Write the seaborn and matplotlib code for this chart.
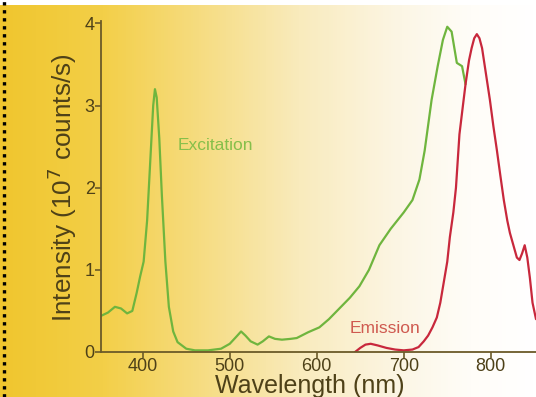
import numpy as np
import pandas as pd
import matplotlib
matplotlib.use("Agg")
import matplotlib.pyplot as plt
from matplotlib.colors import LinearSegmentedColormap
from matplotlib.lines import Line2D
import seaborn as sns

# Excitation spectrum (wavelength in nm, intensity in 10^7 counts/s)
ex_wavelength = [352, 360, 368, 375, 382, 388, 393, 397, 401, 405, 409, 412, 414,
                 416, 419, 422, 426, 430, 435, 440, 450, 460, 475, 490, 500, 507,
                 513, 518, 524, 532, 538, 545, 552, 560, 570, 577, 590, 603, 614,
                 626, 638, 649, 660, 672, 685, 700, 710, 718, 724, 732, 739, 745,
                 750, 755, 761, 767, 771]
ex_intensity = [0.44, 0.48, 0.55, 0.53, 0.47, 0.50, 0.72, 0.92, 1.10, 1.60, 2.40,
                3.00, 3.20, 3.10, 2.60, 1.90, 1.10, 0.55, 0.25, 0.12, 0.04, 0.02,
                0.02, 0.04, 0.10, 0.18, 0.25, 0.20, 0.13, 0.09, 0.13, 0.19, 0.16,
                0.15, 0.16, 0.17, 0.24, 0.30, 0.40, 0.53, 0.66, 0.80, 1.00, 1.30,
                1.50, 1.70, 1.85, 2.10, 2.45, 3.07, 3.48, 3.80, 3.96, 3.90, 3.52,
                3.48, 3.26]

# Emission spectrum
em_wavelength = [644, 650, 656, 662, 670, 680, 690, 700, 710, 717, 723, 728, 733,
                 738, 742, 746, 750, 753, 757, 760, 764, 768, 771, 775, 778, 781,
                 784, 787, 790, 795, 799, 803, 807, 811, 815, 819, 822, 826, 830,
                 833, 836, 839, 842, 845, 848, 852]
em_intensity = [0.00, 0.05, 0.09, 0.10, 0.08, 0.05, 0.03, 0.02, 0.03, 0.06, 0.13,
                0.20, 0.30, 0.42, 0.60, 0.85, 1.10, 1.40, 1.70, 2.00, 2.65, 3.00,
                3.26, 3.55, 3.70, 3.82, 3.87, 3.82, 3.70, 3.35, 3.07, 2.75, 2.46,
                2.15, 1.85, 1.60, 1.45, 1.30, 1.15, 1.12, 1.20, 1.30, 1.15, 0.90,
                0.60, 0.40]

x_ticks = [400, 500, 600, 700, 800]
y_ticks = [0, 1, 2, 3, 4]

ex_df = pd.DataFrame({"wavelength": ex_wavelength, "intensity": ex_intensity})
em_df = pd.DataFrame({"wavelength": em_wavelength, "intensity": em_intensity})

sns.set_style("ticks")
plt.rcParams["font.family"] = ["Liberation Sans", "DejaVu Sans"]

W, H = 536, 397
fig = plt.figure(figsize=(W / 100, H / 100), dpi=100)

# Warm yellow-to-white backdrop
bg = fig.add_axes([0, 0, 1, 1], zorder=-5)
cmap = LinearSegmentedColormap.from_list(
    "warm",
    [(0.0, "#f0c62e"), (0.19, "#f3cf48"), (0.37, "#f6dc80"),
     (0.56, "#f9ebbd"), (0.75, "#fcf6e5"), (0.88, "#fffdf8"), (1.0, "#ffffff")])
grad = np.tile(np.linspace(0, 1, W), (H, 1))
bg.imshow(grad, cmap=cmap, aspect="auto", extent=[0, W, 0, H], origin="lower")
bg.fill_between([0, W], H - 5, H, color="white", lw=0)
bg.set_xlim(0, W)
bg.set_ylim(0, H)
bg.axis("off")

# dotted border on the left
fig.add_artist(Line2D([3.5 / W, 3.5 / W], [0, 1], transform=fig.transFigure,
                      color="black", lw=2.4, linestyle=(0, (1, 1.4))))

ax = fig.add_axes([101 / W, 45 / H, (W - 101) / W, (352 - 21) / H])
ax.set_facecolor("none")

sns.lineplot(data=ex_df, x="wavelength", y="intensity", ax=ax,
             color="#6fb53e", lw=1.6, sort=False)
sns.lineplot(data=em_df, x="wavelength", y="intensity", ax=ax,
             color="#c8283c", lw=1.6, sort=False)

ax.set_xlim(352, 852)
ax.set_ylim(0, 4.03)
ax.set_xticks(x_ticks)
ax.set_yticks(y_ticks)

axis_col = "#6b5a28"
text_col = "#4e4118"
for s in ("top", "right"):
    ax.spines[s].set_visible(False)
for s in ("left", "bottom"):
    ax.spines[s].set_color(axis_col)
    ax.spines[s].set_linewidth(1.3)
ax.tick_params(axis="both", colors=axis_col, labelcolor=text_col,
               length=4, width=1.2, labelsize=13, pad=0.5)

ax.set_xlabel("Wavelength (nm)", fontsize=18, color=text_col)
ax.xaxis.set_label_coords(0.48, -0.124)
ax.xaxis.label.set_va("baseline")
ax.set_ylabel("Intensity (10$^7$ counts/s)", fontsize=18.8, color=text_col)
ax.yaxis.set_label_coords(-0.05, 0.495)

ax.text(483, 2.52, "Excitation", color="#86bf4a", fontsize=12.5,
        ha="center", va="center")
ax.text(678, 0.29, "Emission", color="#cf5a50", fontsize=12.5,
        ha="center", va="center")

fig.savefig("out.png", dpi=100)
